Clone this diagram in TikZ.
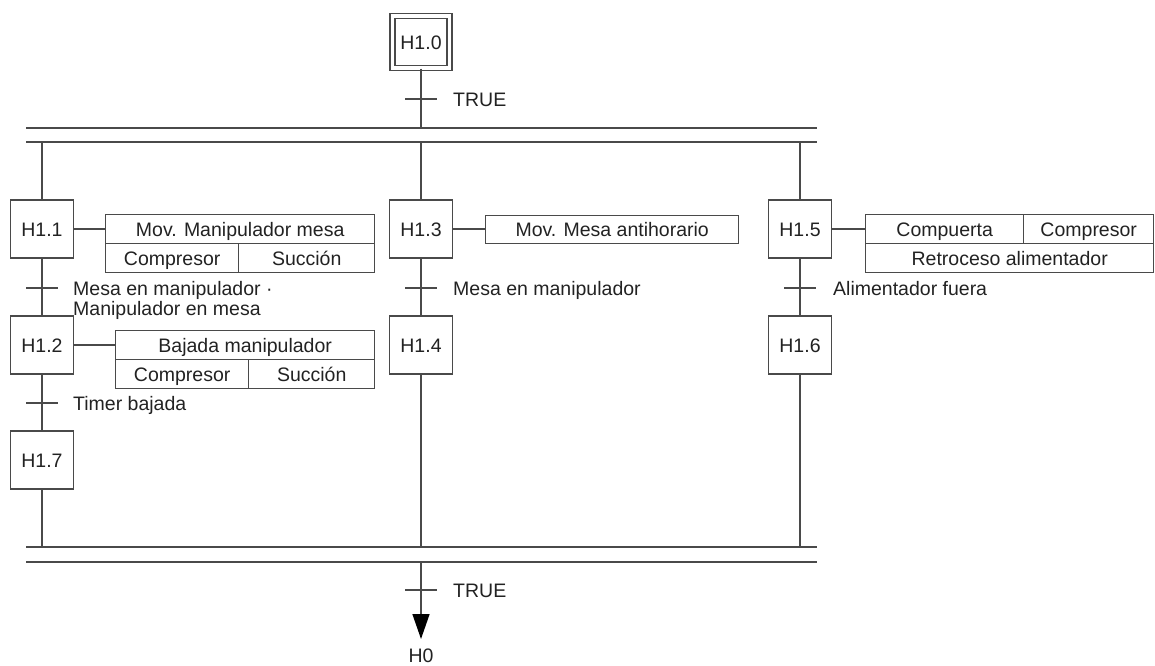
\documentclass[tikz,border=0pt]{standalone}
\usepackage{fontspec}
\setmainfont{Liberation Sans}
\usetikzlibrary{arrows.meta}
\definecolor{lc}{HTML}{4A4A4A}
\definecolor{tc}{HTML}{222222}
\newcommand\fs{\fontsize{19.5}{20}\selectfont}
\begin{document}
\begin{tikzpicture}[x=1pt,y=-1pt,
  ln/.style={draw=lc,line width=1.4pt},
  stepbox/.style={ln,rectangle,minimum width=63pt,minimum height=58pt,inner sep=0pt,font=\fs,text=tc,text height=14pt,text depth=0pt},
  cell/.style={ln,rectangle,inner sep=0pt,font=\fs,text=tc,anchor=north west,text height=14pt,text depth=0pt},
  lbl/.style={font=\fs,text=tc,inner sep=0pt,text height=14pt,text depth=0pt},
  tbar/.style={ln}
]
\useasboundingbox (0,0) rectangle (1155,665);

% initial step
\node[stepbox,double,double distance=3.5pt,minimum width=57pt,minimum height=52pt] (H10) at (421,42) {H1.0};

% steps
\node[stepbox] (H11) at (42,229) {H1.1};
\node[stepbox] (H12) at (42,345) {H1.2};
\node[stepbox] (H17) at (42,460) {H1.7};
\node[stepbox] (H13) at (421,229) {H1.3};
\node[stepbox] (H14) at (421,345) {H1.4};
\node[stepbox] (H15) at (800,229) {H1.5};
\node[stepbox] (H16) at (800,345) {H1.6};

% action boxes
\node[cell,minimum width=269pt,minimum height=29pt] (A11) at (105,214) {Mov. Manipulador mesa};
\node[cell,minimum width=133pt,minimum height=29pt] (A11b) at (105,243) {Compresor};
\node[cell,minimum width=136pt,minimum height=29pt] (A11c) at (238,243) {Succión};

\node[cell,minimum width=259pt,minimum height=29pt] (A12) at (115,330) {Bajada manipulador};
\node[cell,minimum width=133pt,minimum height=29pt] (A12b) at (115,359) {Compresor};
\node[cell,minimum width=126pt,minimum height=29pt] (A12c) at (248,359) {Succión};

\node[cell,minimum width=253pt,minimum height=28pt] (A13) at (485,215) {Mov. Mesa antihorario};

\node[cell,minimum width=158pt,minimum height=29pt] (A15) at (865,214) {Compuerta};
\node[cell,minimum width=130pt,minimum height=29pt] (A15b) at (1023,214) {Compresor};
\node[cell,minimum width=288pt,minimum height=29pt] (A15c) at (865,243) {Retroceso alimentador};

% step to action links
\draw[ln] (H11.east) -- (H11.east -| A11.west);
\draw[ln] (H12.east) -- (H12.east -| A12.west);
\draw[ln] (H13.east) -- (H13.east -| A13.west);
\draw[ln] (H15.east) -- (H15.east -| A15.west);

% divergence / convergence double lines
\coordinate (d1l) at (26,128); \coordinate (d1r) at (817,128);
\coordinate (d2l) at (26,142); \coordinate (d2r) at (817,142);
\coordinate (c1l) at (26,547); \coordinate (c1r) at (817,547);
\coordinate (c2l) at (26,562); \coordinate (c2r) at (817,562);
\draw[ln] (d1l) -- (d1r);
\draw[ln] (d2l) -- (d2r);
\draw[ln] (c1l) -- (c1r);
\draw[ln] (c2l) -- (c2r);

% vertical flow lines
\draw[ln] (H10.south) -- (H10.south |- d1l);
\draw[ln] (H11.north |- d2l) -- (H11.north);
\draw[ln] (H13.north |- d2l) -- (H13.north);
\draw[ln] (H15.north |- d2l) -- (H15.north);
\draw[ln] (H11) -- (H12);
\draw[ln] (H12) -- (H17);
\draw[ln] (H13) -- (H14);
\draw[ln] (H15) -- (H16);
\draw[ln] (H17.south) -- (H17.south |- c1l);
\draw[ln] (H14.south) -- (H14.south |- c1l);
\draw[ln] (H16.south) -- (H16.south |- c1l);

% transitions
\coordinate (t0) at (421,99);
\coordinate (t1) at (42,288);
\coordinate (t2) at (42,403);
\coordinate (t3) at (421,288);
\coordinate (t5) at (800,288);
\coordinate (t9) at (421,590);
\foreach \t in {t0,t1,t2,t3,t5,t9}{
  \draw[tbar] ([xshift=-16pt]\t) -- ([xshift=16pt]\t);
}
\node[lbl,anchor=west] (T0) at (453,99) {TRUE};
\node[font=\fs,text=tc,inner sep=0pt,anchor=base west,align=left] (T1) at (73,315) {Mesa en manipulador ·\\Manipulador en mesa};
\node[lbl,anchor=west] (T2) at (73,403) {Timer bajada};
\node[lbl,anchor=west] (T3) at (453,288) {Mesa en manipulador};
\node[lbl,anchor=west] (T5) at (833,288) {Alimentador fuera};
\node[lbl,anchor=west] (T9) at (453,590) {TRUE};

% final jump
\node[lbl] (H0) at (421,655) {H0};
\coordinate (tip) at (421,639);
\draw[ln,-{Triangle[width=17pt,length=25pt,color=black]}] (H10.south |- c2l) -- (tip);
\end{tikzpicture}
\end{document}
